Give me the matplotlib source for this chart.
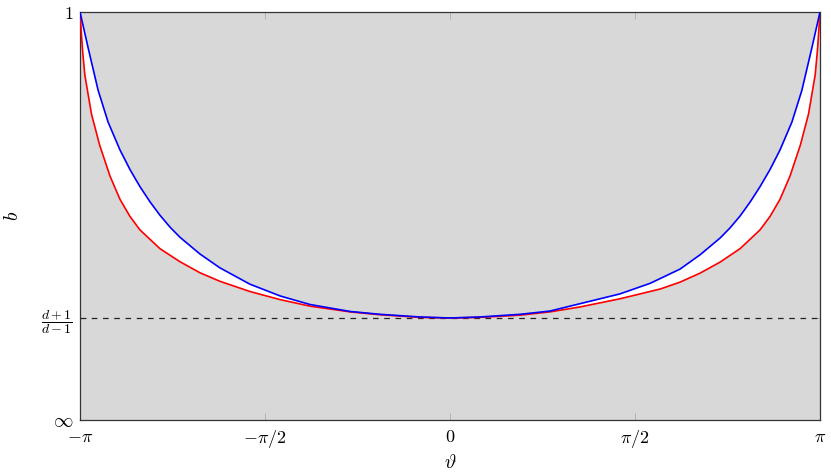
import numpy as np
import matplotlib
matplotlib.use("Agg")
import matplotlib.pyplot as plt

plt.rcParams['mathtext.fontset'] = 'cm'
plt.rcParams['font.family'] = 'serif'
plt.rcParams['font.serif'] = ['DejaVu Serif']

# theta in units of pi, b on a compressed scale (0 = infinity, 1 = 1)
blue_theta = [-1.000, -0.996, -0.978, -0.951, -0.924, -0.892, -0.865, -0.838,
              -0.811, -0.784, -0.757, -0.730, -0.676, -0.622, -0.541, -0.459,
              -0.378, -0.270, -0.189, -0.081, 0.000,
              0.081, 0.189, 0.270, 0.351, 0.459, 0.541, 0.622, 0.676, 0.730,
              0.757, 0.784, 0.811, 0.838, 0.865, 0.892, 0.924, 0.951, 0.978,
              0.996, 1.000]
blue_b = [1.000, 0.984, 0.912, 0.808, 0.730, 0.662, 0.614, 0.572,
          0.535, 0.502, 0.473, 0.448, 0.407, 0.373, 0.333, 0.304,
          0.283, 0.266, 0.259, 0.2525, 0.250,
          0.2525, 0.259, 0.267, 0.285, 0.309, 0.335, 0.370, 0.405, 0.446,
          0.471, 0.500, 0.534, 0.572, 0.614, 0.662, 0.730, 0.808, 0.912,
          0.984, 1.000]

red_theta = [-1.000, -0.997, -0.993, -0.987, -0.969, -0.947, -0.919, -0.892,
             -0.865, -0.838, -0.784, -0.730, -0.676, -0.622, -0.541, -0.459,
             -0.378, -0.270, -0.189, -0.081, 0.000,
             0.081, 0.189, 0.270, 0.351, 0.459, 0.568, 0.622, 0.676, 0.730,
             0.784, 0.838, 0.865, 0.892, 0.919, 0.947, 0.969, 0.987, 0.993,
             0.997, 1.000]
red_b = [1.000, 0.958, 0.905, 0.846, 0.750, 0.674, 0.598, 0.541,
         0.499, 0.466, 0.420, 0.388, 0.361, 0.340, 0.315, 0.295,
         0.279, 0.265, 0.258, 0.2515, 0.250,
         0.2515, 0.257, 0.265, 0.277, 0.297, 0.321, 0.338, 0.360, 0.387,
         0.420, 0.466, 0.499, 0.541, 0.598, 0.674, 0.750, 0.846, 0.905,
         0.958, 1.000]

level_b = 0.25  # (d+1)/(d-1)

xticks = [-np.pi, -np.pi / 2, 0, np.pi / 2, np.pi]
xticklabels = [r'$-\pi$', r'$-\pi/2$', r'$0$', r'$\pi/2$', r'$\pi$']
yticks = [0, level_b, 1]
yticklabels = [r'$\infty$', r'$\dfrac{d+1}{d-1}$', r'$1$']

xb = np.array(blue_theta) * np.pi
xr = np.array(red_theta) * np.pi

fig = plt.figure(figsize=(8.31, 4.76), dpi=100)
ax = fig.add_axes([80 / 831, 56 / 476, 740 / 831, 408 / 476])
ax.set_facecolor('#d8d8d8')

# white region between the two curves
ax.fill(np.concatenate([xb, xr[::-1]]), np.concatenate([blue_b, red_b[::-1]]),
        color='white', lw=0, zorder=1)
ax.axhline(level_b, color='#222222', lw=0.9, ls=(0, (4.5, 4.5)), zorder=2)
ax.plot(xr, red_b, color='#ff0000', lw=1.2, zorder=3)
ax.plot(xb, blue_b, color='#0000ff', lw=1.2, zorder=3)

ax.set_xlim(-np.pi, np.pi)
ax.set_ylim(0, 1)
ax.set_xticks(xticks)
ax.set_xticklabels(xticklabels, fontsize=13)
ax.set_yticks(yticks)
ax.set_yticklabels(yticklabels, fontsize=10)
ax.get_yticklabels()[0].set_fontsize(14)
ax.get_yticklabels()[2].set_fontsize(13)
ax.tick_params(direction='in', length=5, width=0.6, color='#aaaaaa',
               top=True, right=True)
ax.tick_params(axis='x', pad=6)
ax.tick_params(axis='y', pad=5)
for s in ax.spines.values():
    s.set_color('#333333')
    s.set_linewidth(0.9)

ax.set_xlabel(r'$\vartheta$', fontsize=14, labelpad=3)
ax.set_ylabel(r'$b$', fontsize=14, labelpad=14)

fig.savefig('out.png', dpi=100)
